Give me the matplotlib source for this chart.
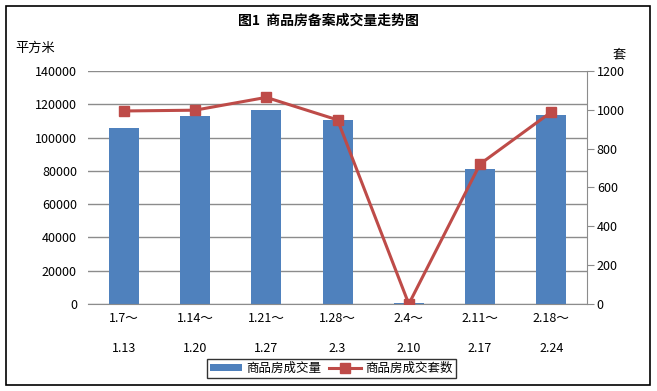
import matplotlib.pyplot as plt
from matplotlib.patches import Rectangle
import numpy as np

plt.rcParams['font.family'] = ['Noto Sans CJK SC', 'DejaVu Sans']

# 周次
weeks_start = ["1.7～", "1.14～", "1.21～", "1.28～", "2.4～", "2.11～", "2.18～"]
weeks_end = ["1.13", "1.20", "1.27", "2.3", "2.10", "2.17", "2.24"]

# 商品房成交量 (平方米) / 商品房成交套数 (套)
area = [105700, 113100, 116600, 110500, 900, 81000, 113500]
units = [994, 998, 1064, 948, 0, 721, 989]

bar_color = "#4F81BD"
line_color = "#BE4B48"
grid_color = "#8C8C8C"

fig = plt.figure(figsize=(6.57, 3.91), dpi=100)
ax = fig.add_axes([0.134, 0.2225, 0.7595, 0.596])
x = np.arange(len(area))

ax.bar(x, area, width=0.42, color=bar_color, zorder=2, label="商品房成交量")
ax.set_xlim(-0.5, len(area) - 0.5)
ax.set_ylim(0, 140000)
ax.set_yticks(np.arange(0, 140001, 20000))
ax.yaxis.grid(True, color=grid_color, linewidth=1)
ax.set_axisbelow(True)
for s in ["top", "right", "left"]:
    ax.spines[s].set_visible(False)
ax.spines["bottom"].set_color(grid_color)
ax.tick_params(axis="y", length=0, pad=8, labelsize=9)
ax.tick_params(axis="x", length=0, pad=6, labelsize=9)
labels = [a + "\n" + b for a, b in zip(weeks_start, weeks_end)]
ax.set_xticks(x, labels, linespacing=2.7)

ax2 = ax.twinx()
ax2.plot(x, units, color=line_color, linewidth=2.2, marker="s", markersize=7,
         zorder=3, label="商品房成交套数")
ax2.set_ylim(0, 1200)
ax2.set_yticks(np.arange(0, 1201, 200))
for s in ["top", "left", "bottom"]:
    ax2.spines[s].set_visible(False)
ax2.spines["right"].set_color(grid_color)
ax2.tick_params(axis="y", direction="out", length=5, color=grid_color, labelsize=9, pad=2)

fig.text(0.5, 0.948, "图1  商品房备案成交量走势图", ha="center", va="center",
         fontsize=10, fontweight="bold")
fig.text(0.023, 0.877, "平方米", ha="left", va="center", fontsize=9.5)
fig.text(0.933, 0.86, "套", ha="left", va="center", fontsize=9.5)

h1, l1 = ax.get_legend_handles_labels()
h2, l2 = ax2.get_legend_handles_labels()
leg = fig.legend(h1 + h2, l1 + l2, loc="center", bbox_to_anchor=(0.504, 0.057),
                 ncol=2, fontsize=9, frameon=True, fancybox=False,
                 handlelength=2.6, handleheight=0.5, columnspacing=0.6,
                 handletextpad=0.3, borderpad=0.25)
leg.get_frame().set_edgecolor("black")
leg.get_frame().set_linewidth(1)

fig.patches.append(Rectangle((0.009, 0.015), 0.98, 0.97, transform=fig.transFigure,
                             fill=False, edgecolor="black", linewidth=1.2))

fig.savefig("out.png", dpi=100)
